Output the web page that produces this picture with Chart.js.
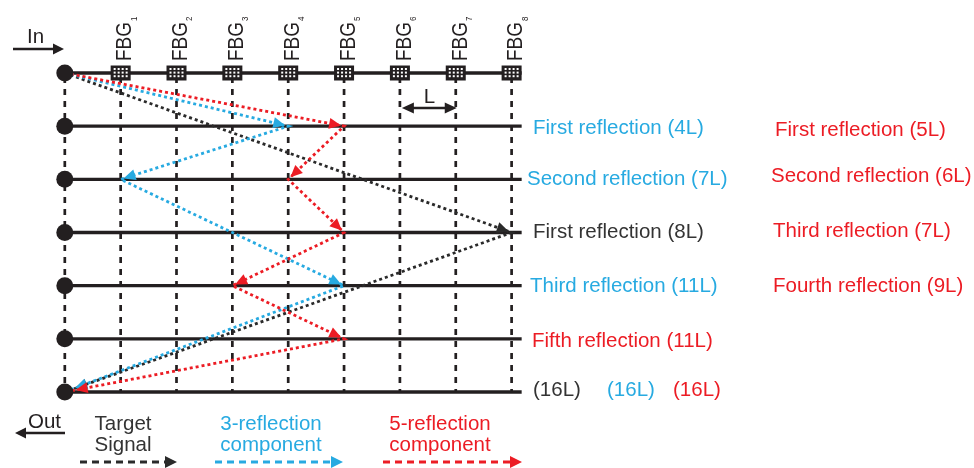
<!DOCTYPE html>
<html><head><meta charset="utf-8">
<script src="https://cdn.jsdelivr.net/npm/chart.js@4.4.1/dist/chart.umd.min.js"></script>
<style>html,body{margin:0;padding:0;background:#fff;overflow:hidden}#wrap{position:relative;width:974px;height:468px}</style>
</head><body><div id="wrap"><canvas id="c" width="974" height="468"></canvas></div>
<script>
// ---- data (positions along the fibre in units of L, time steps as rows) ----
const fbgPositions = [1, 2, 3, 4, 5, 6, 7, 8];
const fbgSubscripts = ['1', '2', '3', '4', '5', '6', '7', '8'];
const timeRows = [0, 1, 2, 3, 4, 5, 6];
const sourcePosition = 0;
const fiberEndPosition = 8.18;

// signal paths: node positions and the time row of each node
const targetX = [0, 8, 0];
const targetRow = [0, 3, 6];
const threeX = [0, 4, 1, 5, 0];
const threeRow = [0, 1, 2, 4, 6];
const fiveX = [0, 5, 4, 5, 3, 5, 0];
const fiveRow = [0, 1, 2, 3, 4, 5, 6];

// labels
const midLabelTexts = ['First reflection (4L)', 'Second reflection (7L)', 'First reflection (8L)', 'Third reflection (11L)', 'Fifth reflection (11L)'];
const midLabelSeries = ['three', 'three', 'target', 'three', 'five'];
const midLabelRows = [1, 2, 3, 4, 5];
const fiveLabelTexts = ['First reflection (5L)', 'Second reflection (6L)', 'Third reflection (7L)', 'Fourth reflection (9L)'];
const fiveLabelRows = [1, 2, 3, 4];
const totalLabelTexts = ['(16L)', '(16L)', '(16L)'];
const totalLabelSeries = ['target', 'three', 'five'];
const legendTexts = [['Target', 'Signal'], ['3-reflection', 'component'], ['5-reflection', 'component']];
const legendSeries = ['target', 'three', 'five'];
const fbgName = 'FBG';
const spacingLabel = 'L';
const inLabel = 'In';
const outLabel = 'Out';

// ---- styles / layout ----
const INK = '#231f20';
const COLORS = { target: '#2a2a2a', three: '#27aae1', five: '#ec1c24' };
const TEXTCOL = { target: '#333333', three: '#27aae1', five: '#ec1c24' };
const FONT = '"Liberation Sans", Arial, Helvetica, sans-serif';
const midLabelLayout = [[533, 8], [527, 6], [533, 5], [530, 6], [532, 8]];
const fiveLabelLayout = [[775, 10], [771, 3], [773, 4], [773, 6]];
const totalLabelLayout = [[533, 4], [607, 4], [673, 4]];
const legendLayout = [{ cx: 123, a0: 80, a1: 177 }, { cx: 271, a0: 215, a1: 343 }, { cx: 440, a0: 383, a1: 522 }];

function pathData(xs, rs) { return xs.map((x, i) => ({ x: x, y: rs[i] })); }

const datasets = [];
// vertical dashed grating columns
[sourcePosition].concat(fbgPositions).forEach(p => {
  datasets.push({ data: [{ x: p, y: timeRows[0] }, { x: p, y: timeRows[timeRows.length - 1] }], showLine: true,
    borderColor: INK, borderWidth: 2.7, borderDash: [6, 6], borderDashOffset: -4, pointRadius: 0, order: 6, clip: false });
});
// fibre lines (one per time step)
timeRows.forEach(r => {
  datasets.push({ data: [{ x: sourcePosition, y: r }, { x: fiberEndPosition, y: r }], showLine: true,
    borderColor: INK, borderWidth: 3.3, pointRadius: 0, order: 5, clip: false });
});
// signal paths
const paths = [
  { key: 'target', xs: targetX, rs: targetRow },
  { key: 'three', xs: threeX, rs: threeRow },
  { key: 'five', xs: fiveX, rs: fiveRow }
];
paths.forEach((p, i) => {
  datasets.push({ data: pathData(p.xs, p.rs), showLine: true, borderColor: COLORS[p.key], borderWidth: 2.8,
    borderDash: [3, 3], pointRadius: 0, order: 3 - i * 0.1, clip: false, tension: 0 });
});
// input / output nodes
datasets.push({ data: timeRows.map(r => ({ x: sourcePosition, y: r })), pointRadius: 8.5, pointHoverRadius: 8.5,
  backgroundColor: INK, borderWidth: 0, order: 1, clip: false });

function arrowHead(ctx, x1, y1, x2, y2, pull, len, half, color) {
  const dx = x2 - x1, dy = y2 - y1, d = Math.hypot(dx, dy), ux = dx / d, uy = dy / d;
  const tx = x2 - ux * pull, ty = y2 - uy * pull, bx = tx - ux * len, by = ty - uy * len;
  ctx.fillStyle = color;
  ctx.beginPath();
  ctx.moveTo(tx, ty);
  ctx.lineTo(bx - uy * half, by + ux * half);
  ctx.lineTo(bx + uy * half, by - ux * half);
  ctx.closePath();
  ctx.fill();
}

const decor = {
  id: 'decor',
  afterDatasetsDraw(chart) {
    const ctx = chart.ctx, X = v => chart.scales.x.getPixelForValue(v), Y = v => chart.scales.y.getPixelForValue(v);
    ctx.save();
    // arrowheads on each signal path segment
    paths.forEach(p => {
      for (let i = 1; i < p.xs.length; i++) {
        const pull = p.xs[i] === sourcePosition ? 11 : 3;
        arrowHead(ctx, X(p.xs[i - 1]), Y(p.rs[i - 1]), X(p.xs[i]), Y(p.rs[i]), pull, 12, 5.5, COLORS[p.key]);
      }
    });
    // FBG boxes and labels on the input fibre
    fbgPositions.forEach((p, i) => {
      const cx = X(p), cy = Y(timeRows[0]);
      ctx.fillStyle = INK;
      ctx.fillRect(cx - 10, cy - 7.5, 20, 15);
      ctx.fillStyle = '#ffffff';
      for (let c = 0; c < 4; c++) for (let r = 0; r < 3; r++) ctx.fillRect(cx - 7 + c * 4, cy - 5 + r * 3.6, 2, 2);
      ctx.save();
      ctx.translate(cx, 61);
      ctx.rotate(-Math.PI / 2);
      ctx.scale(1, 1.2);
      ctx.fillStyle = INK;
      ctx.font = '19px ' + FONT;
      ctx.textAlign = 'left';
      ctx.textBaseline = 'alphabetic';
      ctx.fillText(fbgName, 0, 9);
      const w = ctx.measureText(fbgName).width;
      ctx.font = '8px ' + FONT;
      ctx.fillText(fbgSubscripts[i], w + 1, 13.3);
      ctx.restore();
    });
    ctx.textAlign = 'left';
    ctx.textBaseline = 'alphabetic';
    ctx.font = '20.5px ' + FONT;
    // right-hand labels
    midLabelTexts.forEach((t, i) => {
      ctx.fillStyle = TEXTCOL[midLabelSeries[i]];
      ctx.fillText(t, midLabelLayout[i][0], Y(midLabelRows[i]) + midLabelLayout[i][1]);
    });
    fiveLabelTexts.forEach((t, i) => {
      ctx.fillStyle = TEXTCOL.five;
      ctx.fillText(t, fiveLabelLayout[i][0], Y(fiveLabelRows[i]) + fiveLabelLayout[i][1]);
    });
    totalLabelTexts.forEach((t, i) => {
      ctx.fillStyle = TEXTCOL[totalLabelSeries[i]];
      ctx.fillText(t, totalLabelLayout[i][0], Y(timeRows[timeRows.length - 1]) + totalLabelLayout[i][1]);
    });
    // spacing marker L between FBG6 and FBG7
    const ly = 108, lx0 = X(fbgPositions[5]) + 2, lx1 = X(fbgPositions[6]) + 1;
    ctx.strokeStyle = INK; ctx.lineWidth = 2.6; ctx.setLineDash([]);
    ctx.beginPath(); ctx.moveTo(lx0 + 8, ly); ctx.lineTo(lx1 - 8, ly); ctx.stroke();
    arrowHead(ctx, lx1, ly, lx0, ly, 0, 12, 5.5, INK);
    arrowHead(ctx, lx0, ly, lx1, ly, 0, 12, 5.5, INK);
    ctx.fillStyle = INK; ctx.textAlign = 'center';
    ctx.fillText(spacingLabel, (lx0 + lx1) / 2, 103);
    // In / Out
    ctx.textAlign = 'left';
    ctx.fillText(inLabel, 27, 43);
    ctx.beginPath(); ctx.moveTo(13, 49); ctx.lineTo(56, 49); ctx.stroke();
    arrowHead(ctx, 13, 49, 64, 49, 0, 11, 5.5, INK);
    ctx.fillStyle = INK;
    ctx.fillText(outLabel, 28, 428);
    ctx.beginPath(); ctx.moveTo(65, 433); ctx.lineTo(24, 433); ctx.stroke();
    arrowHead(ctx, 65, 433, 15, 433, 0, 11, 5.5, INK);
    // legend
    legendTexts.forEach((lines, i) => {
      const k = legendSeries[i], L = legendLayout[i];
      ctx.fillStyle = TEXTCOL[k];
      ctx.textAlign = 'center';
      ctx.fillText(lines[0], L.cx, 430);
      ctx.fillText(lines[1], L.cx, 451);
      ctx.strokeStyle = COLORS[k]; ctx.lineWidth = 3; ctx.setLineDash([7, 5]);
      ctx.beginPath(); ctx.moveTo(L.a0, 462); ctx.lineTo(L.a1 - 10, 462); ctx.stroke();
      ctx.setLineDash([]);
      arrowHead(ctx, L.a0, 462, L.a1, 462, 0, 12, 6, COLORS[k]);
    });
    ctx.restore();
  }
};

new Chart(document.getElementById('c'), {
  type: 'scatter',
  data: { datasets: datasets },
  options: {
    responsive: false, animation: false, devicePixelRatio: 1,
    layout: { padding: 0, autoPadding: false },
    scales: {
      x: { type: 'linear', display: false, min: -1.1603, max: 16.2792 },
      y: { type: 'linear', display: false, min: -1.373, max: 7.429, reverse: true }
    },
    plugins: { legend: { display: false }, tooltip: { enabled: false } },
    events: []
  },
  plugins: [decor]
});
</script></body></html>
